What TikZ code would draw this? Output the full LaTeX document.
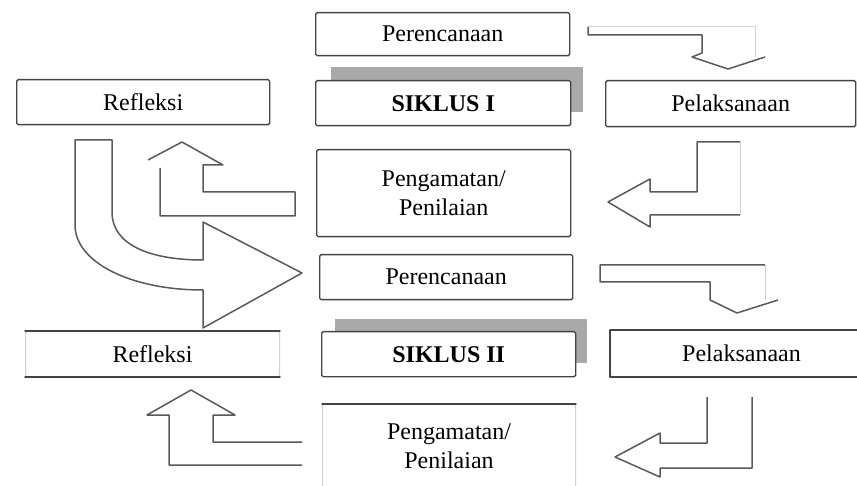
\documentclass[tikz,border=0pt]{standalone}
\usepackage{fontspec}
\setmainfont{Liberation Serif}
\definecolor{shadowgray}{HTML}{A9A9A9}
\definecolor{edgegray}{HTML}{444444}
\definecolor{faintgray}{HTML}{D0D0D0}
\tikzset{
  stage/.style={draw=edgegray, line width=1.4pt, rounded corners=1.5pt, fill=white, anchor=north west, inner sep=0pt, align=center, font=\fontsize{24}{29}\selectfont},
  cyclebox/.style={stage, font=\bfseries\fontsize{24}{29}\selectfont},
  openbox/.style={stage, draw=faintgray, line width=1pt},
  edgeline/.style={draw=edgegray, line width=1.4pt, line cap=round},
  blockarrow/.style={draw=black!65, line width=1.5pt, line join=round},
  faintline/.style={draw=faintgray, line width=1pt}
}
\begin{document}
\begin{tikzpicture}[x=1pt,y=-1pt]
            \useasboundingbox (0,0) rectangle (857,486);
            \clip (0,0) rectangle (857,486);
            % siklus I
            \node[stage, minimum width=254pt, minimum height=43pt] (plan1) at (315,12) {Perencanaan};
            \fill[shadowgray] (331,67) rectangle (583,112);
            \node[cyclebox, minimum width=255pt, minimum height=45pt] (cycle1) at (315,80) {SIKLUS I};
            \node[stage, minimum width=253pt, minimum height=45pt] (reflect1) at (16,79) {Refleksi};
            \node[stage, minimum width=250pt, minimum height=46pt] (act1) at (605,80) {Pelaksanaan};
            \node[stage, minimum width=254pt, minimum height=87pt] (observe1) at (316,149) {Pengamatan/\\Penilaian};
            \draw[faintline] (588,27) -- (755,27) -- (755,57);
            \draw[blockarrow] (588,27) -- (588,35) -- (702,35) -- (702,53) -- (692,57) -- (728,69) -- (765,57);
            \draw[faintline] (740,142) -- (740,215);
            \draw[blockarrow] (740,142) -- (697,142) -- (697,192) -- (650,192) -- (650,179) -- (608,202) -- (650,227) -- (650,215) -- (740,215);
            \draw[blockarrow] (148,160) -- (182,142) -- (223,165) -- (203,165) -- (203,192) -- (295,192) -- (295,216) -- (160,216) -- (160,168);
            \draw[blockarrow] (75,140) -- (75,225) .. controls (75,262) and (130,290) .. (203,290) -- (203,328) -- (302,273) -- (203,222) -- (203,260) .. controls (150,260) and (112,245) .. (112,212) -- (112,140) -- cycle;
            % siklus II
            \node[stage, minimum width=253pt, minimum height=45pt] (plan2) at (319,254) {Perencanaan};
            \fill[shadowgray] (335,319) rectangle (587,363);
            \node[cyclebox, minimum width=254pt, minimum height=45pt] (cycle2) at (321,331) {SIKLUS II};
            \node[openbox, minimum width=254pt, minimum height=45pt] (reflect2) at (25,331) {Refleksi};
            \node[openbox, minimum width=262pt, minimum height=46pt] (act2) at (610,330) {Pelaksanaan};
            \node[openbox, minimum width=253pt, minimum height=84pt] (observe2) at (322,404) {Pengamatan/\\Penilaian};
            \draw[edgeline] (reflect2.north west) -- (reflect2.north east) (reflect2.south west) -- (reflect2.south east);
            \draw[edgeline] (act2.north west) -- (act2.north east) (act2.south west) -- (act2.south east);
            \draw[edgeline] (act2.north west) -- (act2.south west);
            \draw[edgeline] (observe2.north west) -- (observe2.north east);
            \draw[faintline] (765,265) -- (765,300);
            \draw[blockarrow] (765,265) -- (600,265) -- (600,282) -- (710,282) -- (710,300) -- (737,313) -- (778,300);
            \draw[blockarrow] (707,397) -- (707,443) -- (660,443) -- (660,433) -- (615,457) -- (660,477) -- (660,468) -- (752,468) -- (752,397);
            \draw[blockarrow] (302,442) -- (213,442) -- (213,415) -- (235,415) -- (191,390) -- (147,415) -- (169,415) -- (169,465) -- (302,465);
        \end{tikzpicture}
\end{document}
